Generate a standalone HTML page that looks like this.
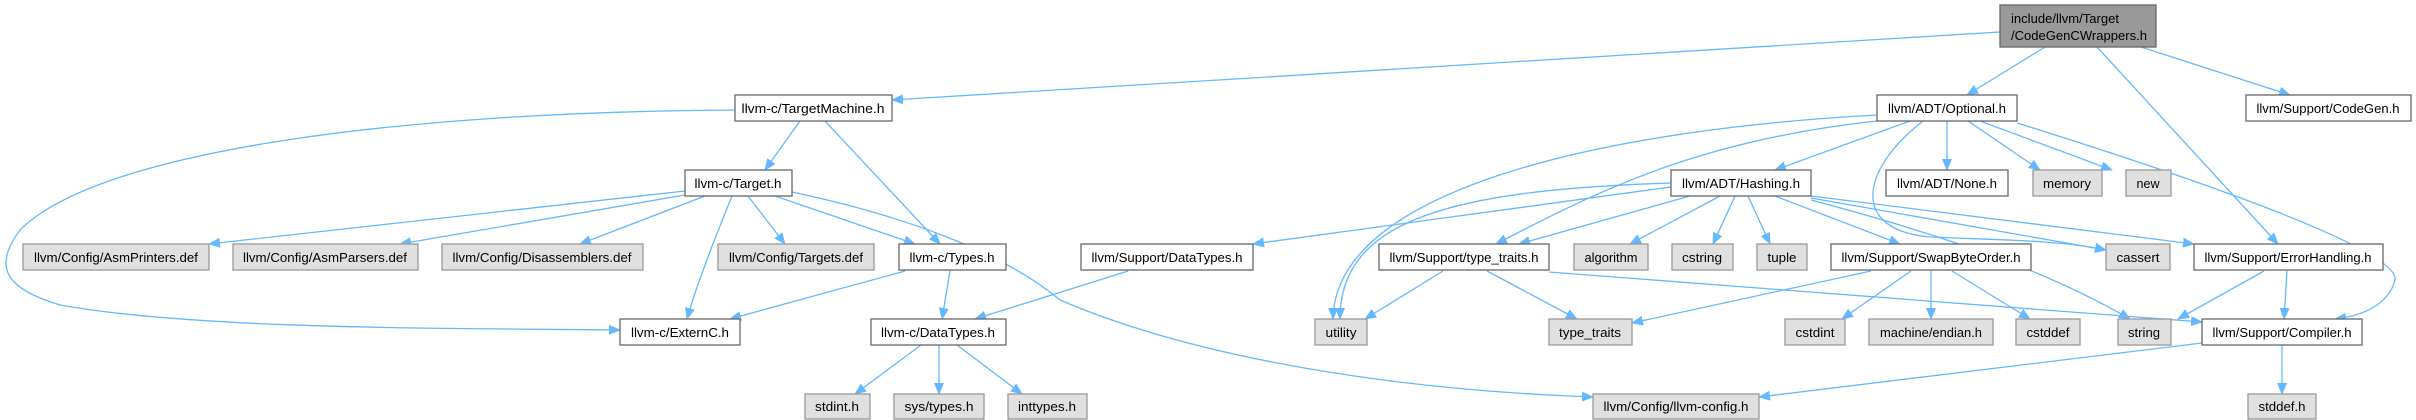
<!DOCTYPE html>
<html><head><meta charset="utf-8"><style>
html,body{margin:0;padding:0;background:#fff;width:2416px;height:420px;overflow:hidden}
svg text{font-family:"Liberation Sans",sans-serif;font-size:13px;fill:#000}
.w{fill:#fff;stroke:#666;stroke-width:1.3}
.g{fill:#e0e0e0;stroke:#999;stroke-width:1.3}
.e{fill:none;stroke:#63b8ff;stroke-width:1.3}
</style></head><body>
<svg width="2416" height="420" viewBox="0 0 2416 420" xmlns="http://www.w3.org/2000/svg">
<defs><marker id="a" markerUnits="userSpaceOnUse" markerWidth="12" markerHeight="10" refX="11" refY="5" orient="auto"><path d="M0,0 L12,5 L0,10 z" fill="#63b8ff"/></marker></defs>
<g class="e" marker-end="url(#a)">
<path d="M2000,32 L892,100"/>
<path d="M2045,47 L1967,95"/>
<path d="M2097,47 L2278,244"/>
<path d="M2141,47 L2290,95"/>
<path d="M800,121 L765,170"/>
<path d="M825,121 L940,244"/>
<path d="M735,110 C400,112 100,150 20,230 C-10,270 10,290 60,305 C200,330 450,328 620,330"/>
<path d="M685,191 L209,244"/>
<path d="M685,195 L400,244"/>
<path d="M705,196 L580,244"/>
<path d="M748,196 L785,244"/>
<path d="M775,196 L915,244"/>
<path d="M732,196 C710,250 695,290 687,319"/>
<path d="M792,192 C900,215 1000,250 1060,300 C1200,360 1400,390 1593,397"/>
<path d="M905,271 L730,319"/>
<path d="M950,271 L942,319"/>
<path d="M1128,271 L975,319"/>
<path d="M921,345 L855,394"/>
<path d="M939,345 L939,394"/>
<path d="M957,345 L1022,394"/>
<path d="M1877,115 C1600,130 1335,190 1333,319"/>
<path d="M1877,121 C1700,140 1600,190 1496,244"/>
<path d="M1910,121 L1775,170"/>
<path d="M1947,121 L1947,170"/>
<path d="M1968,121 L2040,170"/>
<path d="M1980,121 L2112,170"/>
<path d="M1923,121 C1860,170 1850,230 1930,237 C2000,240 2060,240 2106,250"/>
<path d="M2017,123 C2200,180 2400,250 2395,280 C2390,300 2370,315 2335,319"/>
<path d="M1671,187 L1253,244"/>
<path d="M1671,183 C1450,190 1340,220 1340,319"/>
<path d="M1690,196 L1519,244"/>
<path d="M1720,196 L1630,244"/>
<path d="M1735,196 L1713,244"/>
<path d="M1748,196 L1770,244"/>
<path d="M1775,196 L1900,244"/>
<path d="M1811,198 L2106,250"/>
<path d="M1811,196 L2194,244"/>
<path d="M1811,200 C2000,250 2080,290 2130,319"/>
<path d="M1443,271 L1365,319"/>
<path d="M1487,271 L1577,319"/>
<path d="M1549,272 L2202,322"/>
<path d="M1871,271 L1632,323"/>
<path d="M1911,271 L1842,319"/>
<path d="M1931,271 L1931,319"/>
<path d="M1952,271 L2030,319"/>
<path d="M2264,271 L2178,319"/>
<path d="M2287,271 L2284,319"/>
<path d="M2202,343 L1759,397"/>
<path d="M2282,345 L2282,394"/>
</g>
<rect x="2000" y="5" width="156" height="42" fill="#999" stroke="#666" stroke-width="1.3"/>
<text x="2011" y="23" textLength="108" lengthAdjust="spacingAndGlyphs">include/llvm/Target</text>
<text x="2011" y="40" textLength="136" lengthAdjust="spacingAndGlyphs">/CodeGenCWrappers.h</text>
<g text-anchor="middle">
<rect class="w" x="735" y="95" width="157" height="26"/><text x="813" y="113" textLength="143" lengthAdjust="spacingAndGlyphs">llvm-c/TargetMachine.h</text>
<rect class="w" x="1877" y="95" width="140" height="26"/><text x="1947" y="113" textLength="118" lengthAdjust="spacingAndGlyphs">llvm/ADT/Optional.h</text>
<rect class="w" x="2246" y="95" width="165" height="26"/><text x="2328" y="113" textLength="143" lengthAdjust="spacingAndGlyphs">llvm/Support/CodeGen.h</text>
<rect class="w" x="685" y="170" width="107" height="26"/><text x="738" y="188" textLength="87" lengthAdjust="spacingAndGlyphs">llvm-c/Target.h</text>
<rect class="w" x="1671" y="170" width="140" height="26"/><text x="1741" y="188" textLength="118" lengthAdjust="spacingAndGlyphs">llvm/ADT/Hashing.h</text>
<rect class="w" x="1886" y="170" width="122" height="26"/><text x="1947" y="188" textLength="100" lengthAdjust="spacingAndGlyphs">llvm/ADT/None.h</text>
<rect class="g" x="2033" y="170" width="69" height="26"/><text x="2067" y="188" textLength="48" lengthAdjust="spacingAndGlyphs">memory</text>
<rect class="g" x="2126" y="170" width="45" height="26"/><text x="2148" y="188" textLength="23" lengthAdjust="spacingAndGlyphs">new</text>
<rect class="g" x="23" y="244" width="186" height="26"/><text x="116" y="262" textLength="164" lengthAdjust="spacingAndGlyphs">llvm/Config/AsmPrinters.def</text>
<rect class="g" x="233" y="244" width="185" height="26"/><text x="325" y="262" textLength="164" lengthAdjust="spacingAndGlyphs">llvm/Config/AsmParsers.def</text>
<rect class="g" x="442" y="244" width="201" height="26"/><text x="542" y="262" textLength="179" lengthAdjust="spacingAndGlyphs">llvm/Config/Disassemblers.def</text>
<rect class="g" x="718" y="244" width="156" height="26"/><text x="796" y="262" textLength="134" lengthAdjust="spacingAndGlyphs">llvm/Config/Targets.def</text>
<rect class="w" x="899" y="244" width="107" height="26"/><text x="952" y="262" textLength="85" lengthAdjust="spacingAndGlyphs">llvm-c/Types.h</text>
<rect class="w" x="1081" y="244" width="172" height="26"/><text x="1167" y="262" textLength="151" lengthAdjust="spacingAndGlyphs">llvm/Support/DataTypes.h</text>
<rect class="w" x="1379" y="244" width="170" height="26"/><text x="1464" y="262" textLength="149" lengthAdjust="spacingAndGlyphs">llvm/Support/type_traits.h</text>
<rect class="g" x="1574" y="244" width="74" height="26"/><text x="1611" y="262" textLength="53" lengthAdjust="spacingAndGlyphs">algorithm</text>
<rect class="g" x="1672" y="244" width="61" height="26"/><text x="1702" y="262" textLength="40" lengthAdjust="spacingAndGlyphs">cstring</text>
<rect class="g" x="1757" y="244" width="50" height="26"/><text x="1782" y="262" textLength="29" lengthAdjust="spacingAndGlyphs">tuple</text>
<rect class="w" x="1831" y="244" width="200" height="26"/><text x="1931" y="262" textLength="179" lengthAdjust="spacingAndGlyphs">llvm/Support/SwapByteOrder.h</text>
<rect class="g" x="2106" y="244" width="64" height="26"/><text x="2138" y="262" textLength="43" lengthAdjust="spacingAndGlyphs">cassert</text>
<rect class="w" x="2194" y="244" width="189" height="26"/><text x="2288" y="262" textLength="167" lengthAdjust="spacingAndGlyphs">llvm/Support/ErrorHandling.h</text>
<rect class="w" x="620" y="319" width="120" height="26"/><text x="680" y="337" textLength="98" lengthAdjust="spacingAndGlyphs">llvm-c/ExternC.h</text>
<rect class="w" x="871" y="319" width="135" height="26"/><text x="938" y="337" textLength="114" lengthAdjust="spacingAndGlyphs">llvm-c/DataTypes.h</text>
<rect class="g" x="1315" y="319" width="52" height="26"/><text x="1341" y="337" textLength="31" lengthAdjust="spacingAndGlyphs">utility</text>
<rect class="g" x="1549" y="319" width="83" height="26"/><text x="1590" y="337" textLength="62" lengthAdjust="spacingAndGlyphs">type_traits</text>
<rect class="g" x="1785" y="319" width="60" height="26"/><text x="1815" y="337" textLength="39" lengthAdjust="spacingAndGlyphs">cstdint</text>
<rect class="g" x="1869" y="319" width="124" height="26"/><text x="1931" y="337" textLength="102" lengthAdjust="spacingAndGlyphs">machine/endian.h</text>
<rect class="g" x="2016" y="319" width="64" height="26"/><text x="2048" y="337" textLength="43" lengthAdjust="spacingAndGlyphs">cstddef</text>
<rect class="g" x="2118" y="319" width="53" height="26"/><text x="2144" y="337" textLength="32" lengthAdjust="spacingAndGlyphs">string</text>
<rect class="w" x="2202" y="319" width="160" height="26"/><text x="2282" y="337" textLength="139" lengthAdjust="spacingAndGlyphs">llvm/Support/Compiler.h</text>
<rect class="g" x="805" y="394" width="65" height="25"/><text x="837" y="411" textLength="44" lengthAdjust="spacingAndGlyphs">stdint.h</text>
<rect class="g" x="894" y="394" width="90" height="25"/><text x="939" y="411" textLength="69" lengthAdjust="spacingAndGlyphs">sys/types.h</text>
<rect class="g" x="1008" y="394" width="79" height="25"/><text x="1047" y="411" textLength="58" lengthAdjust="spacingAndGlyphs">inttypes.h</text>
<rect class="g" x="1593" y="394" width="166" height="25"/><text x="1676" y="411" textLength="145" lengthAdjust="spacingAndGlyphs">llvm/Config/llvm-config.h</text>
<rect class="g" x="2248" y="394" width="68" height="25"/><text x="2282" y="411" textLength="47" lengthAdjust="spacingAndGlyphs">stddef.h</text>
</g>
</svg>
</body></html>
